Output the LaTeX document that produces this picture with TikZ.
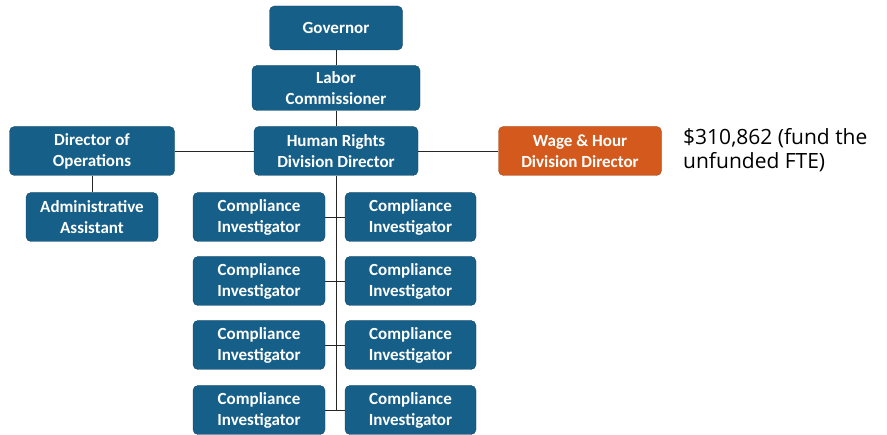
\documentclass[tikz,border=0pt]{standalone}
\usepackage{fontspec}
\setmainfont{Carlito}
\newfontfamily\notefont{Open Sans}
\definecolor{boxblue}{RGB}{22,95,136}
\definecolor{boxorange}{RGB}{211,90,28}

\begin{document}
\begin{tikzpicture}[x=1pt, y=-1pt,
  role/.style={draw=boxblue!75!black, rectangle, rounded corners=5pt, fill=boxblue, text=white, align=center, inner sep=0pt, font=\bfseries\fontsize{17}{21}\selectfont},
  link/.style={draw, thick, black!85}]
\useasboundingbox (0,0) rectangle (887,435);
\node[role, minimum width=133pt, minimum height=44pt] (gov) at (336,28) {Governor};
\node[role, minimum width=168pt, minimum height=45pt] (labor) at (336,88) {Labor\\Commissioner};
\node[role, minimum width=164pt, minimum height=49pt] (hr) at (336,151) {Human Rights\\Division Director};
\node[role, minimum width=165pt, minimum height=49pt] (ops) at (92,151) {Director of\\Operations};
\node[role, minimum width=132pt, minimum height=49pt] (admin) at (92,217) {Administrative\\Assistant};
\node[role, fill=boxorange, draw=boxorange!75!black, minimum width=163pt, minimum height=49pt] (wage) at (580,151) {Wage \& Hour\\Division Director};
\node[anchor=west, align=left, inner sep=0pt, font=\notefont\fontsize{21}{24}\selectfont] (note) at (683,150) {\$310,862 (fund the\\unfunded FTE)};
% compliance investigators, two per row
\foreach \i/\y in {1/217, 2/281, 3/345, 4/410} {
  \node[role, minimum width=132pt, minimum height=49pt] (cil\i) at (259,\y) {Compliance\\Investigator};
  \node[role, minimum width=131pt, minimum height=49pt] (cir\i) at (410.5,\y) {Compliance\\Investigator};
  \draw[link] (cil\i.east) -- (cir\i.west);
}
\coordinate (spine) at (336,410);
\draw[link] (gov) -- (labor);
\draw[link] (labor) -- (hr);
\draw[link] (hr.west) -- (ops.east);
\draw[link] (ops) -- (admin);
\draw[link] (hr.east) -- (wage.west);
\draw[link] (hr.south) -- (spine);
\end{tikzpicture}
\end{document}
